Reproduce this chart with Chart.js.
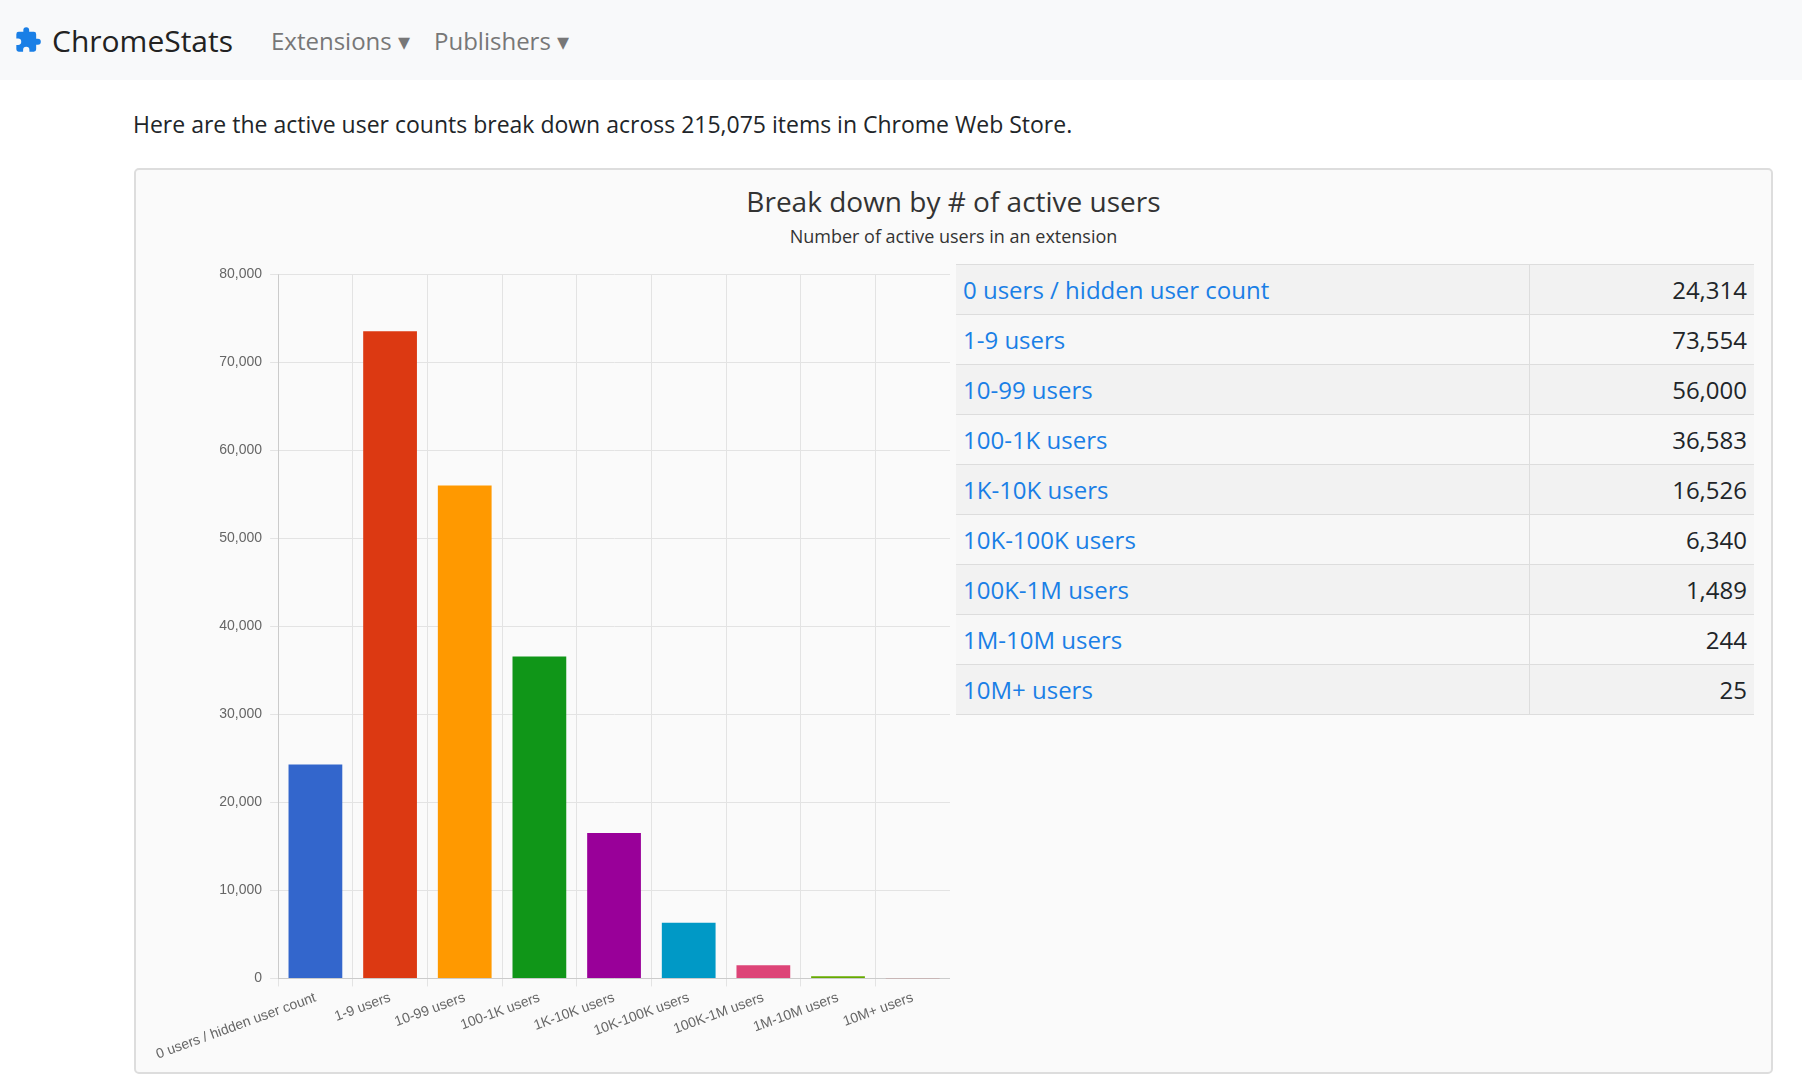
<!DOCTYPE html>
<html>
<head>
<meta charset="utf-8">
<script src="https://cdn.jsdelivr.net/npm/chart.js@4"></script>
<style>
    body { margin: 0; font-family: "Open Sans", "Noto Sans", sans-serif; color: #212529; background: #fff; }
    .nav { height: 80px; background: #f8f9fa; display: flex; align-items: center; }
    .brand { display: flex; align-items: center; margin-left: 14px; font-size: 30px; color: #222; }
    .brand svg { margin-right: 10px; }
    .menu { margin-left: 38px; font-size: 24px; color: #777; }
    .menu span { margin-right: 24px; }
    .intro { position: absolute; left: 133px; top: 108px; font-size: 23px; }
    .card { position: absolute; left: 134px; top: 168px; width: 1635px; height: 902px; border: 2px solid #ddd; border-radius: 5px; background: #fafafa; }
    .title { position: absolute; left: 0; right: 0; top: 12px; text-align: center; font-size: 28px; color: #333; }
    .sub { position: absolute; left: 0; right: 0; top: 54px; text-align: center; font-size: 18px; color: #333; }
    .chartbox { position: absolute; left: 14px; top: 88px; width: 800px; height: 808px; }
    table { position: absolute; left: 820px; top: 94px; width: 798px; border-collapse: collapse; font-size: 24px; }
    td { height: 49px; border-top: 1px solid #ddd; padding: 0 7px; }
    tr:nth-child(odd) { background: #f2f2f2; }
    tr:nth-child(even) { background: #f7f7f7; }
    td.lbl { color: #1a7fe6; border-right: 1px solid #ddd; }
    td.val { text-align: right; width: 210px; }
    tr:last-child td { border-bottom: 1px solid #ddd; }
</style>
</head>
<body>
<div class="nav">
    <div class="brand">
        <svg width="28" height="28" viewBox="0 0 24 24"><path fill="#1a7fe6" d="M20.5 11H19V7a2 2 0 0 0-2-2h-4V3.5a2.5 2.5 0 0 0-5 0V5H4a2 2 0 0 0-2 2v3.8h1.5a2.7 2.7 0 0 1 0 5.4H2V20a2 2 0 0 0 2 2h3.8v-1.5a2.7 2.7 0 0 1 5.4 0V22H17a2 2 0 0 0 2-2v-4h1.5a2.5 2.5 0 0 0 0-5z"/></svg>
        ChromeStats
    </div>
    <div class="menu"><span>Extensions &#9662;</span><span>Publishers &#9662;</span></div>
</div>
<div class="intro">Here are the active user counts break down across 215,075 items in Chrome Web Store.</div>
<div class="card">
    <div class="title">Break down by # of active users</div>
    <div class="sub">Number of active users in an extension</div>
    <div class="chartbox"><canvas id="bars"></canvas></div>
    <table id="tbl"></table>
</div>
<script>
// Data
const categories = ['0 users / hidden user count', '1-9 users', '10-99 users', '100-1K users', '1K-10K users',
    '10K-100K users', '100K-1M users', '1M-10M users', '10M+ users'];
const counts = [24314, 73554, 56000, 36583, 16526, 6340, 1489, 244, 25];
const barColors = ['#3366cc', '#dc3912', '#ff9900', '#109618', '#990099', '#0099c6', '#dd4477', '#66aa00', '#b82e2e'];
const yTicks = [0, 10000, 20000, 30000, 40000, 50000, 60000, 70000, 80000];

// Table next to the chart
const tbl = document.getElementById('tbl');
categories.forEach((c, i) => {
    const tr = document.createElement('tr');
    tr.innerHTML = `<td class="lbl">${c}</td><td class="val">${counts[i].toLocaleString('en-US')}</td>`;
    tbl.appendChild(tr);
});

new Chart(document.getElementById('bars'), {
    type: 'bar',
    data: {
        labels: categories,
        datasets: [{ data: counts, backgroundColor: barColors, categoryPercentage: 0.8, barPercentage: 0.9 }]
    },
    options: {
        responsive: true,
        maintainAspectRatio: false,
        animation: false,
        plugins: { legend: { display: false }, tooltip: { enabled: false } },
        scales: {
            x: {
                grid: { color: '#e3e3e3', offset: true },
                ticks: { color: '#666', font: { size: 14, family: 'Liberation Sans' }, maxRotation: 20, minRotation: 20 }
            },
            y: {
                min: 0, max: 80000,
                afterBuildTicks: (axis) => { axis.ticks = yTicks.map(v => ({ value: v })); },
                grid: { color: '#e3e3e3' },
                ticks: { color: '#666', font: { size: 14, family: 'Liberation Sans' }, padding: 8 }
            }
        }
    }
});
</script>
</body>
</html>
